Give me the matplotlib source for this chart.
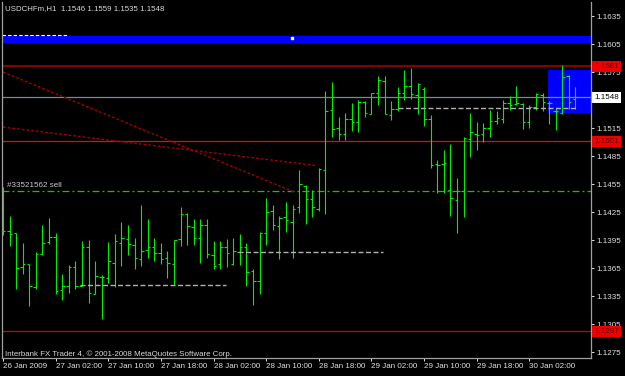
import matplotlib
matplotlib.use("Agg")
import matplotlib.pyplot as plt
import matplotlib.transforms as mtransforms
from matplotlib.patches import Rectangle
import numpy as np

plt.rcParams['font.family'] = ['Liberation Sans', 'DejaVu Sans']
plt.rcParams['lines.scale_dashes'] = False

# USDCHFm H1 bars, first bar 26 Jan 2009 18:00
opens = [1.1405, 1.1405, 1.1402, 1.1366, 1.1369, 1.1345, 1.1380, 1.1393, 1.1398, 1.1341,
         1.1346, 1.1366, 1.1346, 1.1388, 1.1337, 1.1355, 1.1354, 1.1370, 1.1392, 1.1396,
         1.1390, 1.1375, 1.1384, 1.1387, 1.1381, 1.1376, 1.1369, 1.1396, 1.1423, 1.1409,
         1.1397, 1.1411, 1.1379, 1.1369, 1.1387, 1.1369, 1.1382, 1.1387, 1.1362, 1.1351,
         1.1402, 1.1426, 1.1410, 1.1420, 1.1414, 1.1430, 1.1453, 1.1439, 1.1428, 1.1470,
         1.1534, 1.1515, 1.1509, 1.1525, 1.1521, 1.1543, 1.1530, 1.1553, 1.1565, 1.1529,
         1.1535, 1.1552, 1.1560, 1.1550, 1.1557, 1.1525, 1.1476, 1.1476, 1.1449, 1.1438,
         1.1447, 1.1503, 1.1509, 1.1509, 1.1515, 1.1522, 1.1525, 1.1542, 1.1541, 1.1541,
         1.1521, 1.1538, 1.1550, 1.1542, 1.1533, 1.1531, 1.1571, 1.1546]
highs = [1.1452, 1.1421, 1.1402, 1.1392, 1.1369, 1.1382, 1.1411, 1.1419, 1.1403, 1.1359,
         1.1368, 1.1373, 1.1394, 1.1395, 1.1373, 1.1358, 1.1393, 1.1401, 1.1414, 1.1411,
         1.1397, 1.1432, 1.1418, 1.1397, 1.1392, 1.1383, 1.1395, 1.1430, 1.1424, 1.1417,
         1.1417, 1.1417, 1.1394, 1.1394, 1.1396, 1.1397, 1.1401, 1.1392, 1.1364, 1.1404,
         1.1440, 1.1432, 1.1421, 1.1436, 1.1432, 1.1470, 1.1454, 1.1449, 1.1472, 1.1555,
         1.1564, 1.1527, 1.1531, 1.1542, 1.1545, 1.1544, 1.1553, 1.1571, 1.1571, 1.1544,
         1.1559, 1.1577, 1.1579, 1.1563, 1.1559, 1.1529, 1.1481, 1.1491, 1.1498, 1.1461,
         1.1505, 1.1531, 1.1521, 1.1520, 1.1534, 1.1533, 1.1545, 1.1549, 1.1560, 1.1542,
         1.1540, 1.1553, 1.1553, 1.1544, 1.1536, 1.1582, 1.1572, 1.1559]
lows = [1.1400, 1.1389, 1.1342, 1.1359, 1.1324, 1.1343, 1.1379, 1.1391, 1.1337, 1.1331,
        1.1338, 1.1343, 1.1346, 1.1327, 1.1337, 1.1310, 1.1349, 1.1345, 1.1367, 1.1379,
        1.1364, 1.1367, 1.1376, 1.1373, 1.1369, 1.1354, 1.1347, 1.1389, 1.1390, 1.1390,
        1.1370, 1.1376, 1.1364, 1.1364, 1.1366, 1.1368, 1.1368, 1.1346, 1.1325, 1.1337,
        1.1390, 1.1406, 1.1375, 1.1404, 1.1376, 1.1424, 1.1412, 1.1420, 1.1426, 1.1423,
        1.1505, 1.1502, 1.1502, 1.1512, 1.1511, 1.1527, 1.1530, 1.1540, 1.1530, 1.1524,
        1.1533, 1.1545, 1.1546, 1.1530, 1.1517, 1.1472, 1.1445, 1.1445, 1.1421, 1.1403,
        1.1420, 1.1484, 1.1491, 1.1500, 1.1505, 1.1519, 1.1520, 1.1534, 1.1540, 1.1514,
        1.1515, 1.1534, 1.1533, 1.1519, 1.1513, 1.1530, 1.1535, 1.1535]
closes = [1.1405, 1.1401, 1.1365, 1.1369, 1.1346, 1.1380, 1.1392, 1.1398, 1.1340, 1.1346,
          1.1366, 1.1346, 1.1388, 1.1338, 1.1356, 1.1355, 1.1372, 1.1394, 1.1397, 1.1391,
          1.1376, 1.1383, 1.1387, 1.1381, 1.1375, 1.1370, 1.1395, 1.1423, 1.1410, 1.1397,
          1.1411, 1.1380, 1.1367, 1.1387, 1.1381, 1.1383, 1.1388, 1.1361, 1.1351, 1.1403,
          1.1425, 1.1411, 1.1419, 1.1416, 1.1428, 1.1455, 1.1439, 1.1430, 1.1471, 1.1533,
          1.1514, 1.1509, 1.1525, 1.1521, 1.1543, 1.1531, 1.1553, 1.1566, 1.1530, 1.1535,
          1.1553, 1.1560, 1.1551, 1.1562, 1.1525, 1.1475, 1.1475, 1.1477, 1.1440, 1.1448,
          1.1504, 1.1511, 1.1507, 1.1515, 1.1523, 1.1526, 1.1542, 1.1540, 1.1542, 1.1521,
          1.1538, 1.1551, 1.1543, 1.1542, 1.1533, 1.1570, 1.1543, 1.1548]

time_labels = ["26 Jan 2009", "27 Jan 02:00", "27 Jan 10:00", "27 Jan 18:00",
               "28 Jan 02:00", "28 Jan 10:00", "28 Jan 18:00", "29 Jan 02:00",
               "29 Jan 10:00", "29 Jan 18:00", "30 Jan 02:00"]
price_ticks = [1.1635, 1.1605, 1.1575, 1.1545, 1.1515, 1.1485, 1.1455,
               1.1425, 1.1395, 1.1365, 1.1335, 1.1305, 1.1275]

# chart objects
line_hi = 1.1581
line_mid = 1.1501
line_lo = 1.1297
bid = 1.1548
sell_price = 1.1448
band_lo, band_hi = 1.1606, 1.1614
box_start, box_lo, box_hi = 82.9, 1.1531, 1.1577
trend_steep = ([0, 44.4], [1.1575, 1.1446])
trend_flat = ([0, 47.4], [1.1516, 1.1475])
dash_segments = [(11.7, 33.9, 1.1347), (35.7, 57.8, 1.1382), (60.0, 86.9, 1.1536)]

W, H = 625, 376
fig = plt.figure(figsize=(W / 100, H / 100), dpi=100, facecolor='black')
ax = fig.add_axes([2 / W, 18 / H, 589 / W, 356 / H], facecolor='black')

idx = np.arange(len(opens))
ax.set_xlim(-0.15, 89.36)
ax.set_ylim(1.12686, 1.16500)

# objects behind bars
ax.axhspan(band_lo, band_hi, color='#0000ff', lw=0, zorder=1)
ax.add_patch(Rectangle((box_start, box_lo), 20, box_hi - box_lo, color='#0000ff', lw=0, zorder=1))
ax.plot([-0.2, 9.9], [1.1615, 1.1615], color='white', lw=0.8, dashes=(2.5, 1.5), zorder=2)
ax.plot([43.9], [1.1611], marker='s', ms=1.8, color='white', zorder=2)

ax.axhline(line_hi, color='#8b0000', lw=1.4, zorder=2)
ax.axhline(line_mid, color='#ff0000', lw=0.9, zorder=2)
ax.axhline(line_lo, color='#d00000', lw=0.9, zorder=2)
ax.axhline(bid, color='#778899', lw=0.9, zorder=2)
ax.axhline(sell_price, color='#00d000', lw=0.9, dashes=(5, 2.2, 1.4, 2.2), zorder=2)

for xs, ys in (trend_steep, trend_flat):
    ax.plot(xs, ys, color='#a00000', lw=1.0, dashes=(2, 1.4), zorder=2)

# OHLC bars
ax.vlines(idx, lows, highs, colors='#00ee00', lw=0.8, zorder=3)
ax.hlines(opens, idx - 0.38, idx, colors='#00ee00', lw=0.8, zorder=3)
ax.hlines(closes, idx, idx + 0.38, colors='#00ee00', lw=0.8, zorder=3)

for x0, x1, p in dash_segments:
    ax.plot([x0, x1], [p, p], color='#b0b0b0', lw=1.0, dashes=(3.6, 1.8), zorder=4)

ax.text(0.6, 1.1453, "#33521562 sell", color='#c8c8c8', fontsize=5.8, va='center', ha='left', zorder=5)

# axes styling
for s in ('top',):
    ax.spines[s].set_visible(False)
for s in ('left', 'right', 'bottom'):
    ax.spines[s].set_color('#a0a0a0')
    ax.spines[s].set_linewidth(0.9)
ax.yaxis.tick_right()
ax.set_yticks(price_ticks)
ax.set_yticklabels([f"{p:.4f}" for p in price_ticks])
ax.tick_params(axis='y', colors='#e0e0e0', labelsize=5.8, length=2.2, width=0.7, pad=1.4)
ax.set_xticks(np.arange(len(time_labels)) * 8)
ax.set_xticklabels(time_labels, ha='left')
ax.tick_params(axis='x', colors='#e0e0e0', labelsize=5.8, length=2.2, width=0.7, pad=1.5)

# price tags on the right scale
tr = mtransforms.blended_transform_factory(ax.transAxes, ax.transData)
for p, fc, tc in ((line_hi, '#ee0000', '#600000'), (line_mid, '#ee0000', '#600000'),
                  (line_lo, '#ee0000', '#600000'), (bid, 'white', 'black')):
    ax.text(1.0051, p, f"{p:.4f}", transform=tr, fontsize=5.8, color=tc, ha='left', va='center',
            clip_on=False, zorder=6,
            bbox=dict(boxstyle='square,pad=0.25', fc=fc, ec='none'))

fig.text(5 / W, 1 - 8.5 / H, "USDCHFm,H1  1.1546 1.1559 1.1535 1.1548", color='#d8d8d8',
         fontsize=5.7, va='center', ha='left')
fig.text(5 / W, 1 - 354.5 / H, "Interbank FX Trader 4, \u00a9 2001-2008 MetaQuotes Software Corp.",
         color='#d8d8d8', fontsize=5.7, va='center', ha='left')

fig.savefig("out.png", dpi=100, facecolor='black')
